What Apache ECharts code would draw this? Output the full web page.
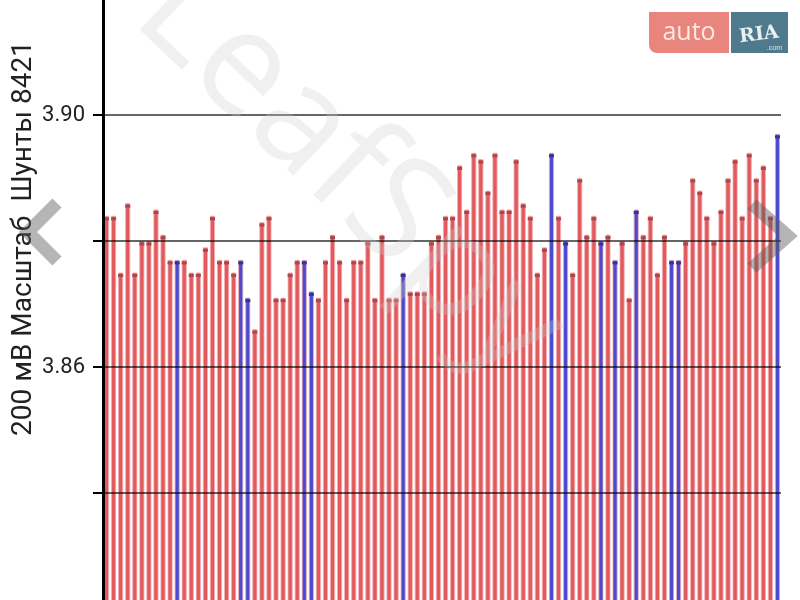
<!DOCTYPE html>
<html>
<head>
<meta charset="utf-8">
<script src="https://cdn.jsdelivr.net/npm/echarts@6/dist/echarts.min.js"></script>
<style>
  html, body { margin: 0; padding: 0; background: #fff; }
  #chart { width: 800px; height: 600px; }
</style>
</head>
<body>
<div id="chart"></div>
<script>
// напряжения ячеек, В (по порядку слева направо)
const cellVolts = [
  3.884, 3.884, 3.875, 3.886, 3.875, 3.880, 3.880, 3.885, 3.881, 3.877,
  3.877, 3.877, 3.875, 3.875, 3.879, 3.884, 3.877, 3.877, 3.875, 3.877,
  3.871, 3.866, 3.883, 3.884, 3.871, 3.871, 3.875, 3.877, 3.877, 3.872,
  3.871, 3.877, 3.881, 3.877, 3.871, 3.877, 3.877, 3.880, 3.871, 3.881,
  3.871, 3.871, 3.875, 3.872, 3.872, 3.872, 3.880, 3.881, 3.884, 3.884,
  3.892, 3.885, 3.894, 3.893, 3.888, 3.894, 3.885, 3.885, 3.893, 3.886,
  3.884, 3.875, 3.879, 3.894, 3.884, 3.880, 3.875, 3.890, 3.881, 3.884,
  3.880, 3.881, 3.877, 3.880, 3.871, 3.885, 3.881, 3.884, 3.875, 3.881,
  3.877, 3.877, 3.880, 3.890, 3.888, 3.884, 3.880, 3.885, 3.890, 3.893,
  3.884, 3.894, 3.890, 3.892, 3.884, 3.897
];
// ячейки с шунтом (синие), номера с 1
const shuntCells = [11, 20, 21, 29, 30, 43, 64, 66, 71, 73, 76, 81, 82, 96];
const cellNames = cellVolts.map((_, i) => String(i + 1));
// подписаны только эти деления
const labeledTicks = ['3.86', '3.90'];
const axisTitle = '200 мВ Масштаб  Шунты 8421';

const RED = '#e05a5e';
const BLUE = '#4b4bd0';

function render() {
  const chart = echarts.init(document.getElementById('chart'), null, {
    width: 800,
    height: 600
  });

  const barData = cellVolts.map((v, i) => ({
    value: v,
    itemStyle: { color: shuntCells.includes(i + 1) ? BLUE : RED }
  }));
  const capData = cellVolts.map((v, i) => ({
    value: v,
    itemStyle: { color: shuntCells.includes(i + 1) ? '#34349a' : '#a9474f' }
  }));

  chart.setOption({
    animation: false,
    backgroundColor: '#fff',
    grid: {
      left: 103,
      right: 19,
      top: -11,
      height: 630,
      outerBoundsMode: 'none',
      containLabel: false
    },
    xAxis: {
      type: 'category',
      data: cellNames,
      axisLine: { show: false },
      axisTick: { show: false },
      axisLabel: { show: false }
    },
    yAxis: {
      type: 'value',
      z: 5,
      min: 3.82,
      max: 3.92,
      interval: 0.02,
      axisLine: { show: true, lineStyle: { color: '#000', width: 3 } },
      axisTick: { show: true, length: 10, lineStyle: { color: '#000', width: 2 } },
      axisLabel: {
        margin: 18,
        color: '#222',
        fontFamily: 'Roboto',
        fontSize: 22,
        formatter: v => (labeledTicks.includes(v.toFixed(2)) ? v.toFixed(2) : '')
      },
      splitLine: { lineStyle: { color: 'rgba(0,0,0,0.8)', width: 1.5 } }
    },
    series: [
      {
        type: 'bar',
        data: barData,
        barWidth: 5,
        itemStyle: { borderColor: '#f4aeb0', borderWidth: 0.8 },
        z: 2
      },
      {
        type: 'pictorialBar',
        data: capData,
        symbol: 'rect',
        symbolSize: [5, 3],
        symbolPosition: 'end',
        symbolOffset: [0, '50%'],
        barGap: '-100%',
        z: 3
      }
    ],
    graphic: [
      {
        type: 'text',
        left: 10,
        top: 41,
        rotation: Math.PI / 2,
        style: {
          text: axisTitle,
          font: '28px Roboto',
          fill: '#222'
        }
      },
      // водяной знак
      {
        type: 'text',
        x: 158,
        y: -10,
        rotation: -0.76,
        z: 50,
        style: {
          text: 'LeafSpy',
          font: '145px "Open Sans"',
          fill: 'rgba(205,205,205,0.3)',
          textVerticalAlign: 'middle'
        }
      },
      // стрелки
      {
        type: 'polyline',
        z: 60,
        shape: { points: [[57, 203], [28, 232], [57, 261]] },
        style: { stroke: 'rgba(90,90,90,0.45)', lineWidth: 13, fill: null }
      },
      {
        type: 'polyline',
        z: 60,
        shape: { points: [[752, 204], [788, 236], [752, 268]] },
        style: { stroke: 'rgba(90,90,90,0.45)', lineWidth: 13, fill: null }
      },
      // логотип auto.ria
      {
        type: 'group',
        x: 649,
        y: 12,
        z: 70,
        children: [
          { type: 'rect', shape: { x: 0, y: 0, width: 80, height: 41, r: [0, 0, 0, 8] }, style: { fill: '#e8857c' } },
          { type: 'text', x: 40, y: 21, style: { text: 'auto', font: '25px "Open Sans"', fill: '#fde8e4', textAlign: 'center', textVerticalAlign: 'middle' } },
          { type: 'rect', shape: { x: 82, y: 0, width: 57, height: 41 }, style: { fill: '#4f7a8d' } },
          { type: 'text', x: 110, y: 23, rotation: 0.12, style: { text: 'RIA', font: 'bold 19px "DejaVu Serif"', fill: '#e9f0f2', textAlign: 'center', textVerticalAlign: 'middle' } },
          { type: 'text', x: 133, y: 36, style: { text: '.com', font: '7px sans-serif', fill: '#dde8ec', textAlign: 'right', textVerticalAlign: 'middle' } }
        ]
      }
    ]
  });
}

render();
</script>
</body>
</html>
